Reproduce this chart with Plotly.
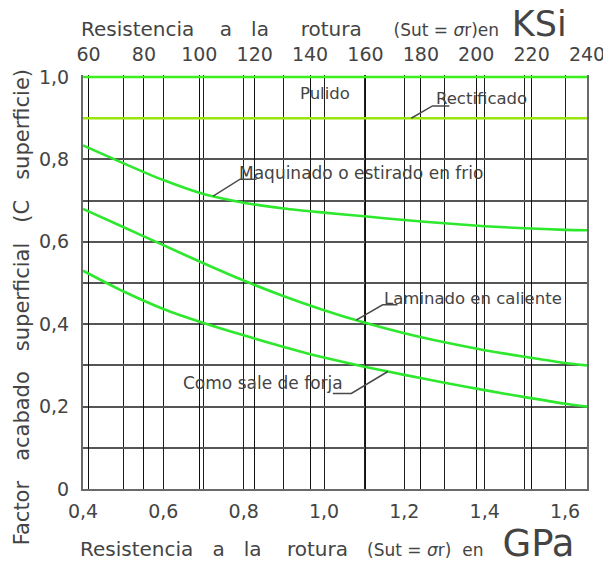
import numpy as np
import plotly.graph_objects as go

# ---------------- data ----------------
KSI_PER_GPA = 145.038

# Tensile strength (GPa) sample points of the curves
gpa = [0.40, 0.50, 0.60, 0.70, 0.80, 0.90, 1.00, 1.10, 1.20, 1.30, 1.40, 1.50, 1.60, 1.6547]

# Surface factor C_superficie per finish
maquinado = [0.834, 0.791, 0.750, 0.716, 0.695, 0.681, 0.671, 0.662, 0.653, 0.645, 0.638, 0.633, 0.629, 0.628]
laminado = [0.680, 0.636, 0.592, 0.548, 0.506, 0.468, 0.434, 0.404, 0.378, 0.356, 0.337, 0.321, 0.306, 0.300]
forja = [0.530, 0.480, 0.437, 0.403, 0.373, 0.345, 0.319, 0.297, 0.277, 0.258, 0.240, 0.223, 0.207, 0.200]

flat_x = [0.40, 1.6547]
pulido = [1.0, 1.0]
rectificado = [0.9, 0.9]

gpa_ticks = [0.4, 0.6, 0.8, 1.0, 1.2, 1.4, 1.6]
ksi_ticks = [60, 80, 100, 120, 140, 160, 180, 200, 220, 240]
c_ticks = [0.0, 0.2, 0.4, 0.6, 0.8, 1.0]
c_ticktext = ["0", "0,2", "0,4", "0,6", "0,8", "1,0"]

# ---------------- styles ----------------
FONT = "DejaVu Sans"
TXT = "#444444"
CURVE = "#2ee82e"
PULIDO_C = "#3cf01e"
RECT_C = "#9be60a"
LEADER = "#4a4a4a"

fig = go.Figure()

# Pulido drawn on the top (ksi) axis so that axis is created
fig.add_trace(go.Scatter(x=[v * KSI_PER_GPA for v in flat_x], y=pulido, xaxis="x2", yaxis="y",
                         mode="lines", line=dict(color=PULIDO_C, width=2.6),
                         hoverinfo="skip", showlegend=False))
fig.add_trace(go.Scatter(x=flat_x, y=rectificado, mode="lines",
                         line=dict(color=RECT_C, width=2.6), hoverinfo="skip", showlegend=False))
for ys in (maquinado, laminado, forja):
    fig.add_trace(go.Scatter(x=gpa, y=ys, mode="lines",
                             line=dict(color=CURVE, width=2.6, shape="spline", smoothing=0.8),
                             hoverinfo="skip", showlegend=False))

# ---------------- labels & leaders ----------------
def on(curve, xv):
    return float(np.interp(xv, gpa if len(curve) == len(gpa) else flat_x, curve))

labels = [
    dict(text="Pulido", x=1.002, y=0.960, xanchor="center", size=16.5),
    dict(text="Rectificado", x=1.274, y=0.949, xanchor="left", size=16.5),
    dict(text="Maquinado o estirado en frio", x=0.784, y=0.768, xanchor="left", size=17),
    dict(text="Laminado en caliente", x=1.144, y=0.463, xanchor="left", size=16.5),
    dict(text="Como sale de forja", x=0.644, y=0.257, xanchor="left", size=17),
]
for lb in labels:
    fig.add_annotation(text=lb["text"], x=lb["x"], y=lb["y"], xref="x", yref="y",
                       xanchor=lb["xanchor"], yanchor="middle", showarrow=False,
                       font=dict(family=FONT, size=lb["size"], color=TXT))

leaders = [
    (rectificado, 1.217, 1.270, 1.312, 0.930),
    (maquinado, 0.724, 0.791, 0.832, 0.752),
    (laminado, 1.080, 1.146, 1.183, 0.447),
    (forja, 1.159, 1.068, 1.022, 0.232),
]
for curve, x0, x1, x2, yb in leaders:
    y0 = on(curve, x0)
    fig.add_shape(type="path", xref="x", yref="y",
                  path=f"M {x0},{y0} L {x1},{yb} L {x2},{yb}",
                  line=dict(color=LEADER, width=1.5))

# ---------------- axis titles ----------------
def sp(n):
    return "&nbsp;" * n

top_title = ("Resistencia" + sp(4) + "a" + sp(3) + "la" + sp(5) + "rotura" + sp(5)
             + "<span style='font-size:17px'>(Sut = <i>σ</i>r)en</span>" + sp(2)
             + "<span style='font-size:35px'>KSi</span>")
bot_title = ("Resistencia" + sp(3) + "a" + sp(3) + "la" + sp(4) + "rotura" + sp(3)
             + "<span style='font-size:17px'>(Sut = <i>σ</i>r)" + sp(2) + "en</span>" + sp(3)
             + "<span style='font-size:37px'>GPa</span>")
y_title = ("Factor" + sp(3) + "acabado" + sp(3) + "superficial" + sp(3) + "(C" + sp(3)
           + "superficie)")

fig.add_annotation(text=top_title, xref="paper", yref="paper", x=-0.008, y=1.122,
                   xanchor="left", yanchor="middle", showarrow=False,
                   font=dict(family=FONT, size=20, color=TXT))
fig.add_annotation(text=bot_title, xref="paper", yref="paper", x=-0.010, y=-0.131,
                   xanchor="left", yanchor="middle", showarrow=False,
                   font=dict(family=FONT, size=20, color=TXT))
fig.add_annotation(text=y_title, xref="paper", yref="paper", x=-0.122, y=0.438,
                   xanchor="center", yanchor="middle", textangle=-90, showarrow=False,
                   font=dict(family=FONT, size=21, color=TXT))

tickfont = dict(family=FONT, size=19, color=TXT)

# page body adds an 8px offset, so the figure is sized to the visible area
fig.update_layout(
    width=603, height=555,
    margin=dict(l=74.5, r=24, t=67, b=74, autoexpand=False),
    paper_bgcolor="white", plot_bgcolor="white",
    separators=",.",
    showlegend=False,
    xaxis=dict(range=[0.4, 1.6547], tickmode="array", tickvals=gpa_ticks,
               tickformat=".1f", tickfont=tickfont, ticks="", ticklabelstandoff=4,
               showgrid=True, gridcolor="#1e1e1e", gridwidth=1.2,
               minor=dict(tickmode="linear", tick0=0.4, dtick=0.1, showgrid=True,
                          gridcolor="#1e1e1e", gridwidth=1.2),
               showline=True, linecolor="#6a6a6a", linewidth=2, zeroline=False,
               automargin=False, fixedrange=True),
    xaxis2=dict(overlaying="x", side="top",
                range=[0.4 * KSI_PER_GPA, 1.6547 * KSI_PER_GPA],
                tickmode="array", tickvals=ksi_ticks, tickfont=tickfont, ticks="",
                ticklabelstandoff=9,
                showgrid=True, gridcolor="#111111", gridwidth=1.1,
                showline=False, zeroline=False, automargin=False, fixedrange=True),
    yaxis=dict(range=[0, 1.005], tickmode="array", tickvals=c_ticks, ticktext=c_ticktext,
               tickfont=tickfont, ticks="", ticklabelstandoff=8,
               showgrid=True, gridcolor="#555555", gridwidth=2,
               minor=dict(tickmode="linear", tick0=0, dtick=0.1, showgrid=True,
                          gridcolor="#555555", gridwidth=2),
               showline=True, linecolor="#6a6a6a", linewidth=2, mirror=True,
               zeroline=False, automargin=False, fixedrange=True),
)

fig.write_html("out.html")
